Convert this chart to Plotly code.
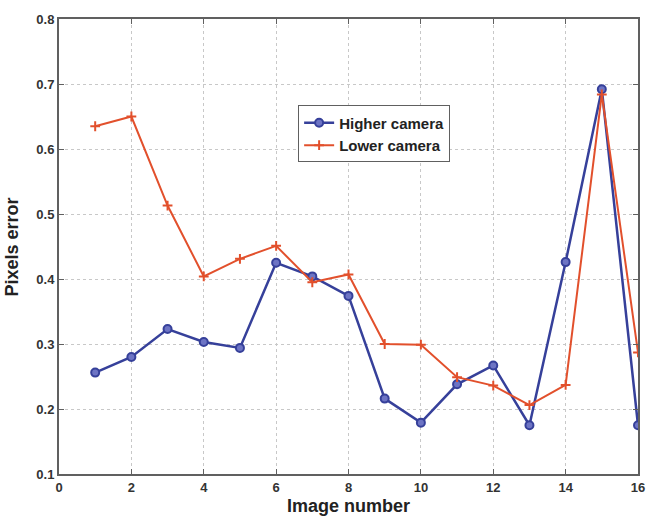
import plotly.graph_objects as go

image_number = list(range(1, 17))
higher_camera = [0.256, 0.280, 0.323, 0.303, 0.294, 0.425, 0.404, 0.374,
                 0.216, 0.179, 0.238, 0.267, 0.175, 0.426, 0.692, 0.175]
lower_camera = [0.635, 0.650, 0.513, 0.404, 0.431, 0.451, 0.395, 0.407,
                0.300, 0.299, 0.249, 0.236, 0.206, 0.237, 0.684, 0.287]
x_ticks = [0, 2, 4, 6, 8, 10, 12, 14, 16]
y_ticks = [0.1, 0.2, 0.3, 0.4, 0.5, 0.6, 0.7, 0.8]

BLUE = "#36409a"
RED = "#e2502c"
FONT = "Liberation Sans, Arial, sans-serif"

fig = go.Figure()
fig.add_trace(go.Scatter(
    x=image_number, y=higher_camera, name="Higher camera",
    mode="lines+markers",
    line=dict(color=BLUE, width=2.5),
    marker=dict(symbol="circle", size=8, color="#6d74c4",
                line=dict(color=BLUE, width=2)),
))
fig.add_trace(go.Scatter(
    x=image_number, y=lower_camera, name="Lower camera",
    mode="lines+markers",
    line=dict(color=RED, width=2),
    marker=dict(symbol="cross-thin", size=7, color=RED,
                line=dict(color=RED, width=2)),
))

axis_common = dict(
    showline=True, linecolor="#606060", linewidth=2, mirror="ticks",
    ticks="inside", ticklen=5, tickcolor="#606060", tickwidth=1,
    showgrid=True, gridcolor="#c8c8c8", griddash="dot", gridwidth=1,
    zeroline=False, automargin=False,
    tickfont=dict(family=FONT, size=13, color="#333333", weight="bold"),
)

fig.update_xaxes(
    range=[0, 16], tickvals=x_ticks, ticktext=[str(v) for v in x_ticks],
    **axis_common,
)
fig.update_yaxes(
    range=[0.1, 0.8], tickvals=y_ticks, ticktext=[f"{v:.1f}" for v in y_ticks],
    **axis_common,
)

title_font = dict(family=FONT, size=18, color="#222222", weight="bold")
fig.add_annotation(text="Image number", xref="paper", yref="paper",
                   x=0.5, y=-0.07, xanchor="center", yanchor="middle",
                   showarrow=False, font=title_font)
fig.add_annotation(text="Pixels error", xref="paper", yref="paper",
                   x=-0.0812, y=0.5, xanchor="center", yanchor="middle",
                   textangle=-90, showarrow=False, font=title_font)

fig.update_layout(
    width=652, height=516,
    margin=dict(l=59, r=14, t=19, b=42),
    paper_bgcolor="white", plot_bgcolor="white",
    showlegend=True,
    legend=dict(
        x=0.413, y=0.81, xanchor="left", yanchor="top",
        bgcolor="white", bordercolor="#606060", borderwidth=1,
        font=dict(family=FONT, size=15, color="#222222", weight="bold"),
        tracegroupgap=0, itemwidth=30,
    ),
)

# Remove the default 8px body margin so the figure fills the window exactly.
fig.write_html("out.html",
               config={"displayModeBar": False},
               post_script="document.body.style.margin='0';"
                           "document.body.style.overflow='hidden';")
